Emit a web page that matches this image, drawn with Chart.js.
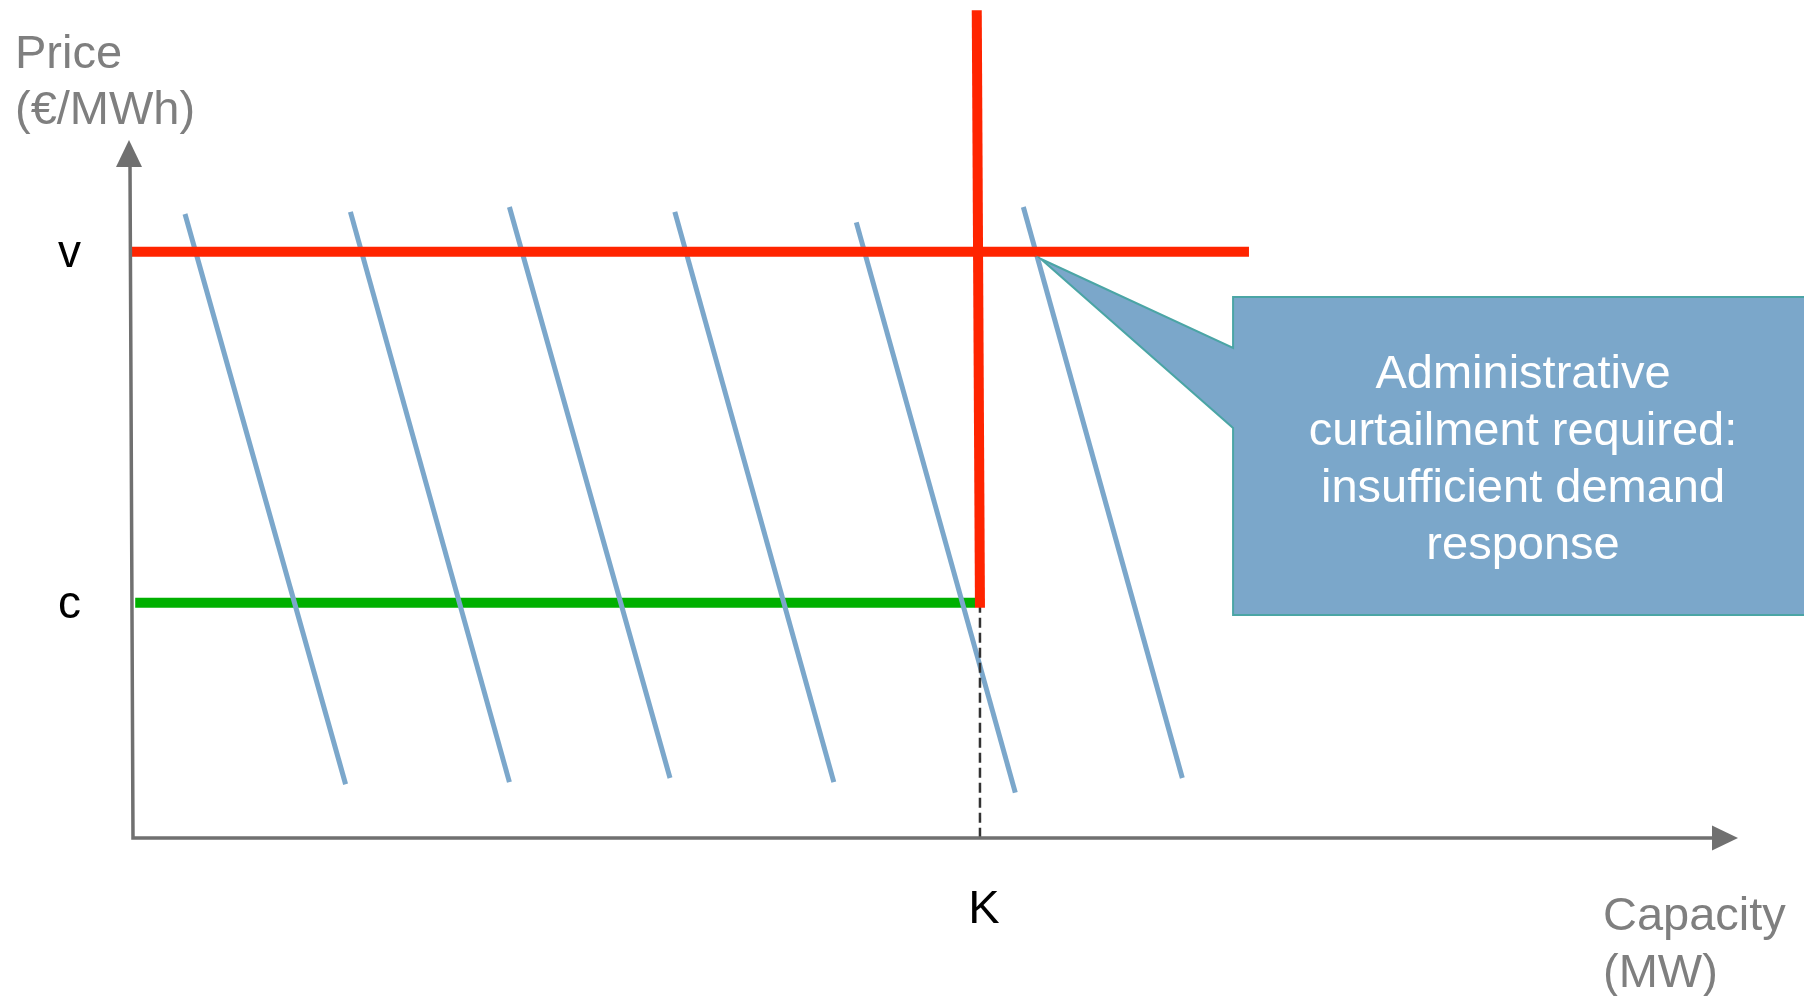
<!DOCTYPE html>
<html>
<head>
<meta charset="utf-8">
<script src="https://cdn.jsdelivr.net/npm/chart.js@4.4.1/dist/chart.umd.min.js"></script>
<style>
  html, body { margin: 0; padding: 0; background: #ffffff; }
  #wrap { width: 1804px; height: 996px; position: relative; }
</style>
</head>
<body>
<div id="wrap"><canvas id="graficoMercado"></canvas></div>
<script>
// valores do esquema (unidades relativas, eixo 0..100)
const capacidadeK = 52.8;
const precoV = 84.0;
const precoC = 33.7;
const precoTopoVertical = 118.6;
const fimLinhaV = 69.55;

// curvas de demanda (inclinadas)
const demandaTopoX = [3.3, 13.6, 23.5, 33.8, 45.1, 55.5];
const demandaTopoY = [89.4, 89.7, 90.4, 89.7, 88.2, 90.4];
const demandaBaseX = [13.3, 23.5, 33.5, 43.7, 55.0, 65.4];
const demandaBaseY = [7.7, 8.0, 8.6, 8.0, 6.5, 8.6];

// ticks
const ticksPreco = [precoC, precoV];
const rotulosPreco = ['c', 'v'];
const ticksCapacidade = [capacidadeK];
const rotulosCapacidade = ['K'];

// balao de texto
const balaoX = [56.6, 68.56, 68.56, 104.67, 104.67, 68.56, 68.56];
const balaoY = [82.95, 70.2, 77.5, 77.5, 31.95, 31.95, 58.74];
const balaoTexto = ['Administrative', 'curtailment required:', 'insufficient demand', 'response'];

const fonte = '"Liberation Sans", Arial, sans-serif';

const linhasDemanda = demandaTopoX.map((x, i) => ({
    data: [{ x: x, y: demandaTopoY[i] }, { x: demandaBaseX[i], y: demandaBaseY[i] }],
    borderColor: '#7BA7CB',
    borderWidth: 5,
    showLine: true,
    pointRadius: 0,
    clip: false
}));

const desenhos = {
    id: 'desenhos',
    afterDatasetsDraw(chart) {
        const c = chart.ctx;
        const sx = chart.scales.x, sy = chart.scales.y;
        const a = chart.chartArea;
        c.save();

        // eixos com setas
        c.strokeStyle = '#707070';
        c.fillStyle = '#707070';
        c.lineWidth = 3.5;
        c.beginPath();
        c.moveTo(a.left - 2, a.top + 24);
        c.lineTo(a.left + 1, a.bottom);
        c.lineTo(a.right - 24, a.bottom);
        c.stroke();
        c.beginPath();
        c.moveTo(a.left - 3, a.top);
        c.lineTo(a.left - 16, a.top + 27);
        c.lineTo(a.left + 10, a.top + 27);
        c.closePath();
        c.fill();
        c.beginPath();
        c.moveTo(a.right, a.bottom);
        c.lineTo(a.right - 26, a.bottom - 12.5);
        c.lineTo(a.right - 26, a.bottom + 12.5);
        c.closePath();
        c.fill();

        // titulos dos eixos
        c.font = '47px ' + fonte;
        c.fillStyle = '#7f7f7f';
        c.textAlign = 'left';
        c.textBaseline = 'alphabetic';
        c.fillText('Price', 15, 68);
        c.fillText('(€/MWh)', 15, 124);
        c.fillText('Capacity', 1603, 930);
        c.fillText('(MW)', 1603, 987);

        // balao
        c.beginPath();
        balaoX.forEach((x, i) => {
            const px = sx.getPixelForValue(x), py = sy.getPixelForValue(balaoY[i]);
            if (i === 0) c.moveTo(px, py); else c.lineTo(px, py);
        });
        c.closePath();
        c.fillStyle = '#7BA7CA';
        c.fill();
        c.strokeStyle = '#4BA5A5';
        c.lineWidth = 2;
        c.stroke();

        const cx = (sx.getPixelForValue(balaoX[1]) + sx.getPixelForValue(balaoX[3])) / 2;
        c.fillStyle = '#ffffff';
        c.font = '47px ' + fonte;
        c.textAlign = 'center';
        balaoTexto.forEach((t, i) => {
            c.fillText(t, cx, 388 + i * 57);
        });
        c.restore();
    }
};

const ctx = document.getElementById('graficoMercado');

new Chart(ctx, {
    type: 'scatter',
    data: {
        datasets: [
            {
                data: [{ x: 0, y: precoV }, { x: fimLinhaV, y: precoV }],
                borderColor: '#FF2400', borderWidth: 10, showLine: true, pointRadius: 0, clip: false
            },
            {
                data: [{ x: capacidadeK - 0.2, y: precoTopoVertical }, { x: capacidadeK, y: precoC - 0.7 }],
                borderColor: '#FF2400', borderWidth: 10, showLine: true, pointRadius: 0, clip: false
            },
            {
                data: [{ x: capacidadeK, y: precoC }, { x: capacidadeK, y: 0 }],
                borderColor: '#333333', borderWidth: 2.5, borderDash: [10, 5], showLine: true, pointRadius: 0, clip: false
            },
            ...linhasDemanda,
            {
                data: [{ x: 0.2, y: precoC }, { x: capacidadeK - 0.3, y: precoC }],
                borderColor: '#00B000', borderWidth: 10, showLine: true, pointRadius: 0, clip: false
            }
        ]
    },
    options: {
        responsive: true,
        maintainAspectRatio: false,
        animation: false,
        layout: { padding: { left: 0, top: 140, right: 66, bottom: 0 } },
        scales: {
            x: {
                type: 'linear', min: 0, max: 100,
                grid: { display: false, drawTicks: false },
                border: { display: false },
                afterFit: (s) => { s.height = 158; },
                afterBuildTicks: (s) => { s.ticks = ticksCapacidade.map(v => ({ value: v })); },
                ticks: {
                    padding: 44,
                    labelOffset: 4,
                    color: '#000000',
                    font: { family: fonte, size: 47 },
                    callback: (v, i) => rotulosCapacidade[i]
                }
            },
            y: {
                type: 'linear', min: 0, max: 100,
                grid: { display: false, drawTicks: false },
                border: { display: false },
                afterFit: (s) => { s.width = 132; },
                afterBuildTicks: (s) => { s.ticks = ticksPreco.map(v => ({ value: v })); },
                ticks: {
                    padding: 51,
                    labelOffset: 3,
                    color: '#000000',
                    font: { family: fonte, size: 46 },
                    callback: (v, i) => rotulosPreco[i]
                }
            }
        },
        plugins: {
            legend: { display: false },
            tooltip: { enabled: false }
        }
    },
    plugins: [desenhos]
});
</script>
</body>
</html>
